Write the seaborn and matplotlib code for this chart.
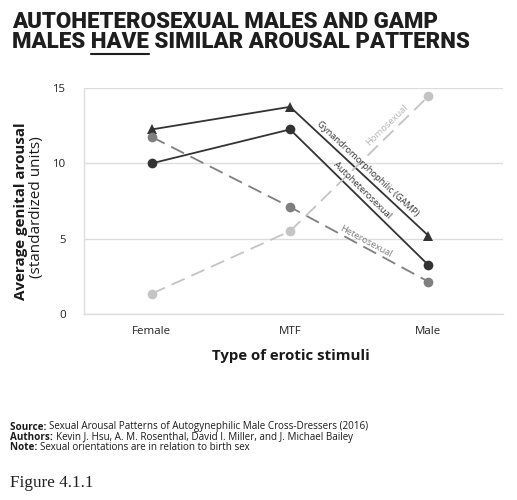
import numpy as np
import pandas as pd
import seaborn as sns
import matplotlib
matplotlib.use("Agg")
import matplotlib.pyplot as plt
from matplotlib import font_manager as fm

# region data
stimuli = ['Female', 'MTF', 'Male']
gamp = [12.25, 13.75, 5.2]
autohetero = [10.0, 12.25, 3.25]
heterosexual = [11.75, 7.1, 2.15]
homosexual = [1.35, 5.5, 14.45]
groups = ['Gynandromorphophilic (GAMP)', 'Autoheterosexual', 'Heterosexual', 'Homosexual']
# endregion

# drop variable font files so the static Open Sans / Roboto faces get picked
fm.fontManager.ttflist = [f for f in fm.fontManager.ttflist if '[' not in f.fname]
try:
    fm.fontManager._findfont_cached.cache_clear()
except Exception:
    pass

df = pd.DataFrame({
    'stim': stimuli * 4,
    'group': np.repeat(groups, 3),
    'val': gamp + autohetero + heterosexual + homosexual,
})

sns.set_theme(style='white')
plt.rcParams['font.family'] = ['Open Sans', 'DejaVu Sans']

pal = {groups[0]: '#333333', groups[1]: '#333333', groups[2]: '#7f7f7f', groups[3]: '#c4c4c4'}
mk = {groups[0]: '^', groups[1]: 'o', groups[2]: 'o', groups[3]: 'o'}
dsh = {groups[0]: '', groups[1]: '', groups[2]: (8, 4), groups[3]: (8, 4)}

fig = plt.figure(figsize=(5.17, 5.0), dpi=100)
ax = fig.add_axes([0.1625, 0.372, 0.8105, 0.452])
W, H = fig.bbox.width, fig.bbox.height
r = fig.canvas.get_renderer()

def fit_size(s, target, **kw):
    # font size that makes the (unrotated) text about target px wide
    t = fig.text(0, 0, s, fontsize=10, **kw)
    w = t.get_window_extent(r).width
    t.remove()
    return 10 * target / w

sns.lineplot(data=df, x='stim', y='val', hue='group', style='group', palette=pal,
             markers=mk, dashes=dsh, markersize=7, markeredgewidth=0, linewidth=1.3,
             legend=False, ax=ax, sort=False)

ax.set_xlim(-0.49, 2.54)
ax.set_ylim(0, 15)
ax.set_yticks([0, 5, 10, 15])
ax.grid(axis='y', color='#dddddd', linewidth=1)
ax.set_axisbelow(True)
for s in ['top', 'right']:
    ax.spines[s].set_visible(False)
for s in ['left', 'bottom']:
    ax.spines[s].set_color('#dddddd')
    ax.spines[s].set_linewidth(1)
tsize = fit_size('Female', 39)
ax.tick_params(axis='both', length=0, labelsize=tsize, colors='#222222')
ax.tick_params(axis='x', pad=9)
ax.tick_params(axis='y', pad=13)
ax.set_ylabel('')
ax.set_xlabel('')

xl = 'Type of erotic stimuli'
fig.text(291 / W, 1 - 356 / H, xl, fontsize=fit_size(xl, 158, fontweight='bold'),
         fontweight='bold', color='#1a1a1a', ha='center', va='center')

yl1 = 'Average genital arousal'
yl2 = '(standardized units)'
fig.text(21 / W, 1 - 211 / H, yl1, rotation=90, fontsize=fit_size(yl1, 178, fontweight='bold'),
         fontweight='bold', color='#1a1a1a', ha='center', va='center')
fig.text(37 / W, 1 - 207 / H, yl2, rotation=90, fontsize=fit_size(yl2, 141),
         color='#1a1a1a', ha='center', va='center')

# labels along the lines
fig.canvas.draw()
lsize = fit_size(groups[0], 138)
def line_label(vals, text, t, off, color):
    p0 = ax.transData.transform((1, vals[1]))
    p1 = ax.transData.transform((2, vals[2]))
    ang = np.degrees(np.arctan2(p1[1] - p0[1], p1[0] - p0[0]))
    x = 1 + t
    y = vals[1] + t * (vals[2] - vals[1])
    ax.annotate(text, (x, y), xytext=(0, off), textcoords='offset points', rotation=ang,
                rotation_mode='anchor', ha='center', va='center', fontsize=lsize, color=color)

line_label(gamp, groups[0], 0.56, 7.5, '#333333')
line_label(autohetero, groups[1], 0.52, 7, '#333333')
line_label(homosexual, groups[3], 0.7, 8, '#b5b5b5')
line_label(heterosexual, groups[2], 0.55, 5, '#7f7f7f')

# title
tfam = ['Roboto', 'DejaVu Sans']
l1 = 'AUTOHETEROSEXUAL MALES AND GAMP'
l2 = 'MALES HAVE SIMILAR AROUSAL PATTERNS'
tsz = fit_size(l2, 456, fontweight='black', family=tfam)
fig.text(12 / W, 0.955, l1, fontsize=tsz, fontweight='black',
         color='#1e1e1e', family=tfam, va='center')
fig.text(12 / W, 0.915, l2, fontsize=tsz, fontweight='black',
         color='#1e1e1e', family=tfam, va='center')
# where "HAVE" sits, for the underline
tmp = fig.text(12 / W, 0.5, 'MALES ', fontsize=tsz, fontweight='black', family=tfam)
a = tmp.get_window_extent(r).x1 / W
tmp.remove()
tmp = fig.text(12 / W, 0.5, 'MALES HAVE', fontsize=tsz, fontweight='black', family=tfam)
b = tmp.get_window_extent(r).x1 / W
tmp.remove()
fig.add_artist(plt.Line2D([a, b], [0.893, 0.893], color='#1e1e1e', linewidth=1.5))

# footer
foot = [('Source:', 'Sexual Arousal Patterns of Autogynephilic Male Cross-Dressers (2016)'),
        ('Authors:', 'Kevin J. Hsu, A. M. Rosenthal, David I. Miller, and J. Michael Bailey'),
        ('Note:', 'Sexual orientations are in relation to birth sex')]
t1 = fig.text(0, 0, foot[0][0] + ' ', fontsize=10, fontweight='bold')
t2 = fig.text(0, 0, foot[0][1], fontsize=10)
wsum = t1.get_window_extent(r).width + t2.get_window_extent(r).width
t1.remove()
t2.remove()
fsz = 10 * 359 / wsum
ys = [427, 437.5, 448]
for (bold, rest), yy in zip(foot, ys):
    tb = fig.text(10 / W, 1 - yy / H, bold + ' ', fontsize=fsz, fontweight='bold',
                  color='#1a1a1a', va='center')
    e = tb.get_window_extent(r)
    fig.text(e.x1 / W, 1 - yy / H, rest, fontsize=fsz, color='#1a1a1a', va='center')

ffam = ['Liberation Serif', 'DejaVu Serif']
fig.text(10 / W, 1 - 483 / H, 'Figure 4.1.1', fontsize=fit_size('Figure 4.1.1', 83, family=ffam),
         color='#222222', family=ffam, va='center')

plt.savefig('out.png', dpi=100)
